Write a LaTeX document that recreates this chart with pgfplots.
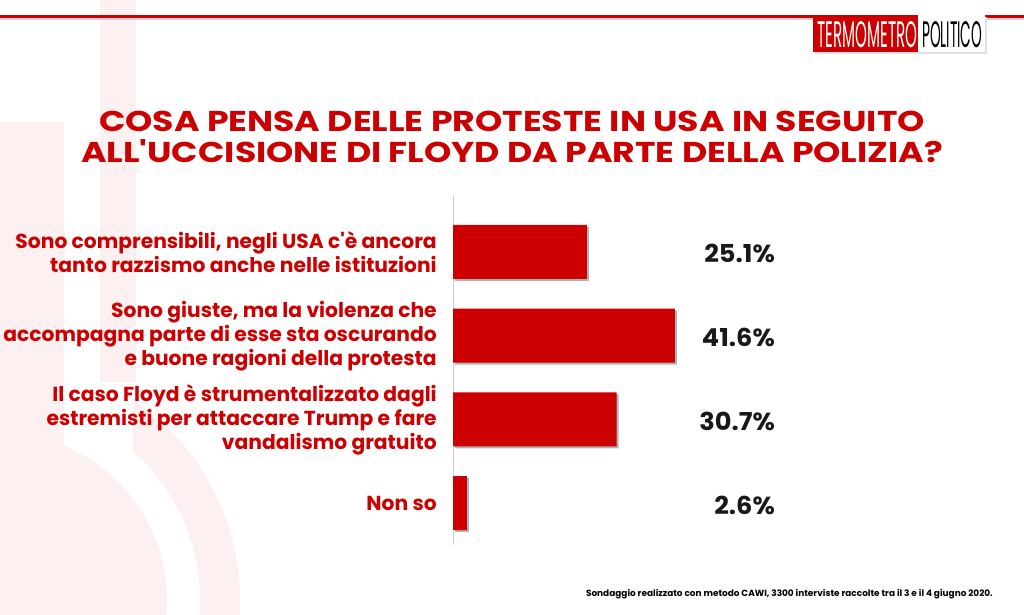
\documentclass[border=0pt]{standalone}
\usepackage{pgfplots}
\pgfplotsset{compat=1.18}
\usepackage{fontspec}
\setmainfont{Poppins}[Ligatures=TeXOff]
\newfontfamily\widefont{Poppins}[Ligatures=TeXOff, FakeStretch=1.04]
\newfontfamily\titlefont{Poppins}[Ligatures=TeXOff, FakeStretch=1.21]
\usepackage{graphicx}
\usetikzlibrary{shadows}
\definecolor{tpred}{HTML}{CC0000}
\definecolor{wm}{HTML}{FCF0F0}
\begin{document}
\begin{tikzpicture}[x=0.75pt,y=0.75pt]
\useasboundingbox (0,0) rectangle (1024,614);
\fill[white] (0,0) rectangle (1024,614);
% watermark
\fill[wm] (100,614) rectangle (136,232);
\fill[wm] (0,492) rectangle (64,0);
\fill[wm] (0,14) circle[radius=167];
\begin{scope}
\clip (133,0) rectangle (400,300);
\fill[wm,even odd rule] (0,14) circle[radius=240] (0,14) circle[radius=200];
\end{scope}
% top line
\fill[black!18] (0,596) rectangle (1024,593.5);
\fill[tpred] (0,599) rectangle (1024,596);
% logo
\fill[black!12] (815,597) rectangle (987,560);
\fill[tpred] (813,599) rectangle (918,562);
\fill[white] (918,599) rectangle (985,562);
\node[anchor=base west, inner sep=0, text=white] at (817,566) {\resizebox{75pt}{19.5pt}{TERMOMETRO}};
\node[anchor=base west, inner sep=0, text=black] at (922,566) {\resizebox{45pt}{19.5pt}{POLITICO}};
% title
\node[anchor=base, inner sep=0, text=tpred, font=\titlefont\fontsize{21.5}{26}\selectfont\bfseries] at (512,482) {COSA PENSA DELLE PROTESTE IN USA IN SEGUITO};
\node[anchor=base, inner sep=0, text=tpred, font=\titlefont\fontsize{21.5}{26}\selectfont\bfseries] at (512,451) {ALL'UCCISIONE DI FLOYD DA PARTE DELLA POLIZIA?};
% footer
\node[anchor=base east, inner sep=0, font=\fontsize{6.7}{8}\selectfont\bfseries] at (993,18) {Sondaggio realizzato con metodo CAWI, 3300 interviste raccolte tra il 3 e il 4 giugno 2020.};
\begin{axis}[
  at={(339.75pt,51.75pt)}, anchor=south west,
  scale only axis, width=240pt, height=262.5pt,
  xmin=0, xmax=60, ymin=-0.68, ymax=3.5,
  y dir=reverse,
  axis x line=none,
  axis y line*=left,
  axis line style={-, draw=black!20, line width=0.75pt},
  ytick={0,1,2,3},
  major tick length=0pt,
  yticklabels={{Sono comprensibili, negli USA c'è ancora\\tanto razzismo anche nelle istituzioni},
               {Sono giuste, ma la violenza che\\accompagna parte di esse sta oscurando\\e buone ragioni della protesta},
               {Il caso Floyd è strumentalizzato dagli\\estremisti per attaccare Trump e fare\\vandalismo gratuito},
               {Non so}},
  yticklabel style={align=right, text=tpred, inner sep=0pt, xshift=-12pt,
     font=\fontsize{15.2}{18}\selectfont\bfseries},
  clip=false,
]
\addplot[xbar, bar width=40.5pt, fill=tpred, draw=none,
  drop shadow={shadow xshift=1.5pt, shadow yshift=-1.5pt, opacity=0.3, fill=black}]
  coordinates {(25.1,0) (41.6,1) (30.7,2) (2.6,3)};
\node[anchor=base east, inner sep=0, font=\widefont\fontsize{18.5}{20}\selectfont\bfseries, text=black!90] at (axis cs:60.4,0) [yshift=-8.25pt] {25.1\%};
\node[anchor=base east, inner sep=0, font=\widefont\fontsize{18.5}{20}\selectfont\bfseries, text=black!90] at (axis cs:60.4,1) [yshift=-8.25pt] {41.6\%};
\node[anchor=base east, inner sep=0, font=\widefont\fontsize{18.5}{20}\selectfont\bfseries, text=black!90] at (axis cs:60.4,2) [yshift=-8.25pt] {30.7\%};
\node[anchor=base east, inner sep=0, font=\widefont\fontsize{18.5}{20}\selectfont\bfseries, text=black!90] at (axis cs:60.4,3) [yshift=-8.25pt] {2.6\%};
\end{axis}
\end{tikzpicture}
\end{document}
